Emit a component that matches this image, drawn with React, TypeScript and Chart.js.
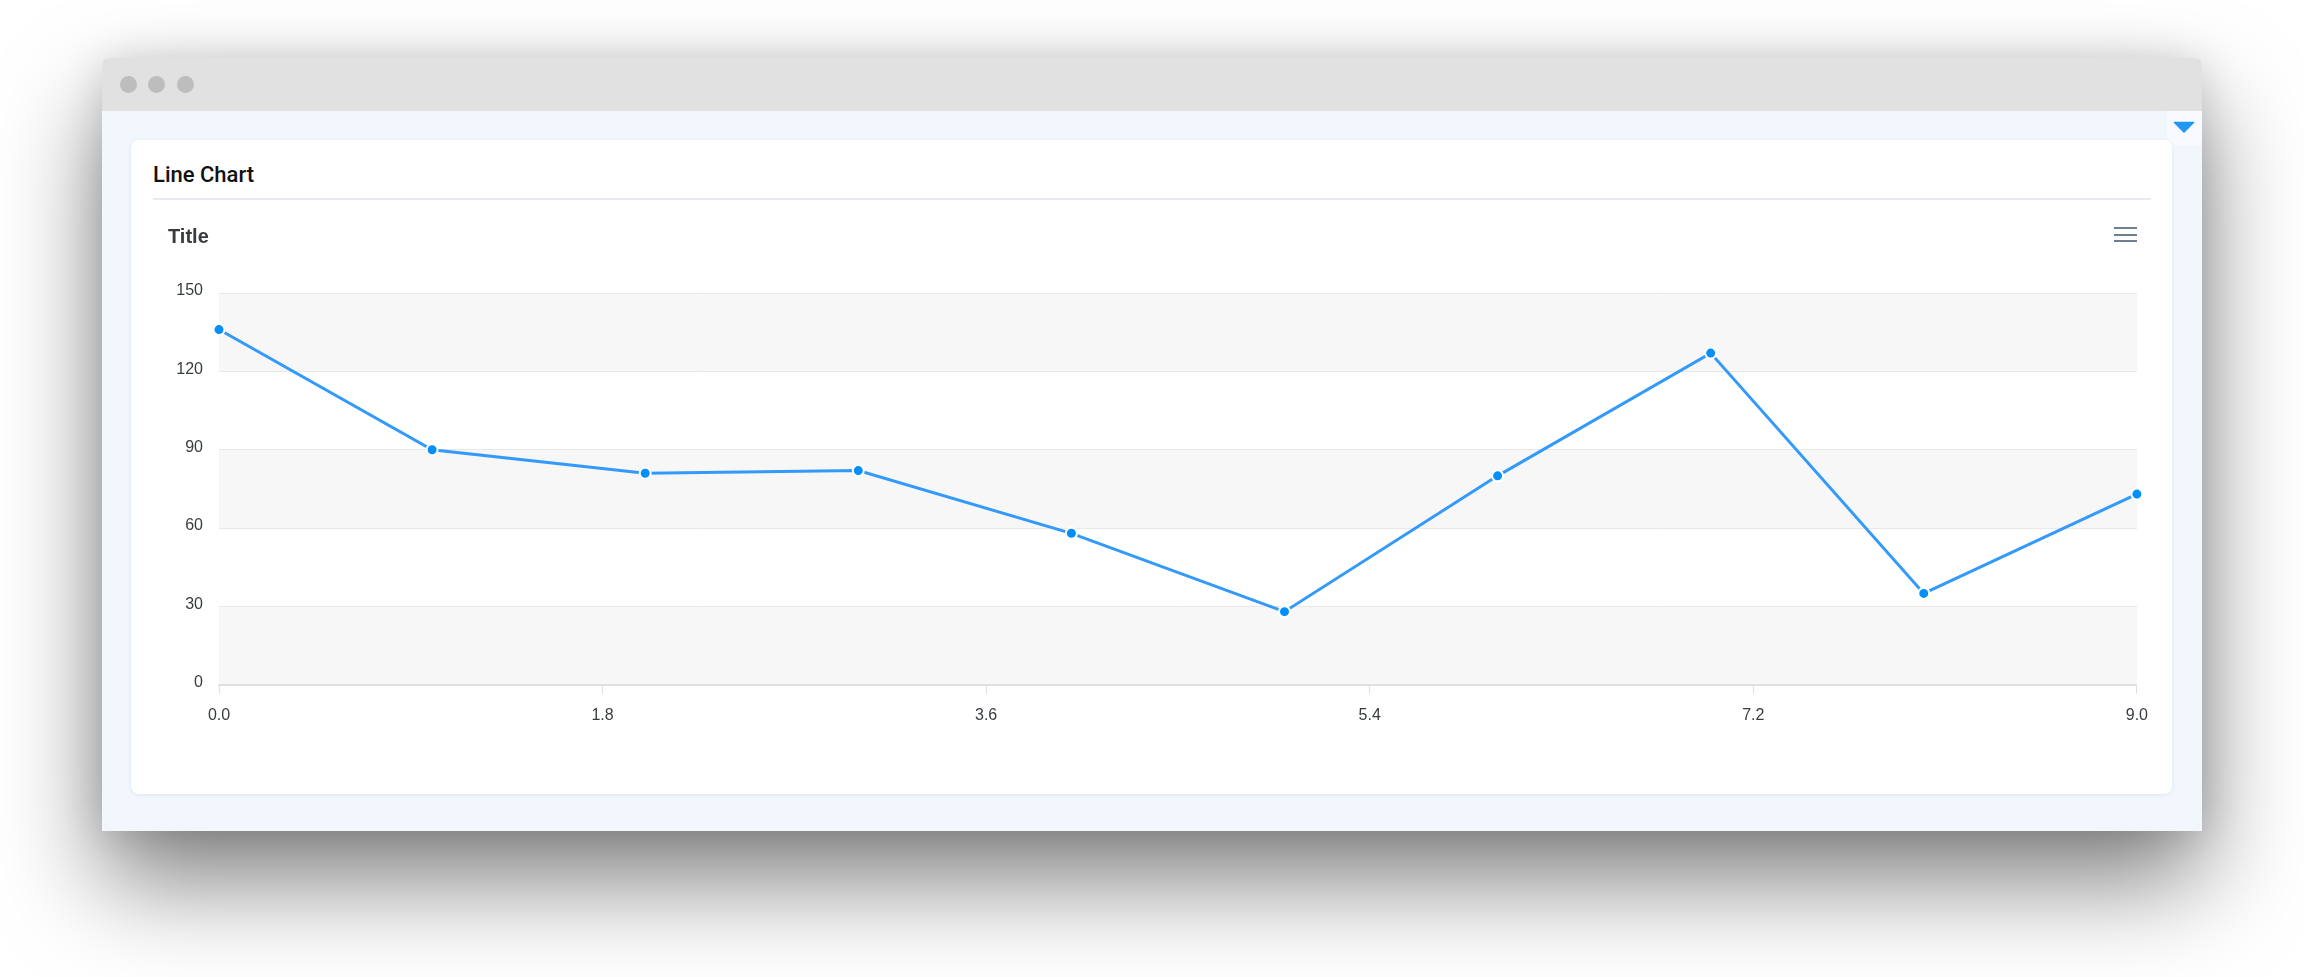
import React, { useEffect, useRef } from "react";
import { Chart, registerables } from "chart.js";

Chart.register(...registerables);

// ---- data ----
const xValues = [0, 1, 2, 3, 4, 5, 6, 7, 8, 9];
const yValues = [136, 90, 81, 82, 58, 28, 80, 127, 35, 73];
const xTickValues = [0, 1.8, 3.6, 5.4, 7.2, 9.0];
const yTickValues = [0, 30, 60, 90, 120, 150];
const chartTitle = "Title";
const cardTitle = "Line Chart";

const CANVAS_W = 2007;
const CANVAS_H = 580;

const bandPlugin = {
  id: "bands",
  beforeDraw(chart: any) {
    const { ctx, chartArea } = chart;
    const y = chart.scales.y;
    ctx.save();
    ctx.fillStyle = "#f7f7f7";
    for (let i = 0; i < yTickValues.length - 1; i++) {
      if (i % 2 === 0) {
        const top = y.getPixelForValue(yTickValues[i + 1]);
        const bottom = y.getPixelForValue(yTickValues[i]);
        ctx.fillRect(chartArea.left, top, chartArea.right - chartArea.left, bottom - top);
      }
    }
    ctx.restore();
  },
};

const tickFont = { family: "'Liberation Sans', Arial, sans-serif", size: 16, lineHeight: 1.2 };

function LineChart() {
  const ref = useRef<HTMLCanvasElement | null>(null);
  useEffect(() => {
    if (!ref.current) return;
    const chart = new Chart(ref.current, {
      type: "line",
      data: {
        datasets: [
          {
            data: xValues.map((x, i) => ({ x, y: yValues[i] })),
            borderColor: "#3399fb",
            borderWidth: 3,
            tension: 0,
            fill: false,
            clip: false,
            pointRadius: 5.5,
            pointBorderWidth: 2,
            pointBorderColor: "#ffffff",
            pointBackgroundColor: "#008ffb",
          },
        ],
      },
      options: {
        animation: false,
        responsive: false,
        layout: { padding: { left: 15, right: 6, top: 0, bottom: 43 } },
        plugins: {
          legend: { display: false },
          tooltip: { enabled: false },
          title: {
            display: true,
            text: chartTitle,
            align: "start",
            color: "#373d3f",
            font: { family: "'Liberation Sans', Arial, sans-serif", size: 20, weight: "bold", lineHeight: 1.2 },
            padding: { top: 25, bottom: 44 },
          },
        },
        scales: {
          x: {
            type: "linear",
            min: 0,
            max: 9,
            afterBuildTicks: (s: any) => {
              s.ticks = xTickValues.map((v) => ({ value: v }));
            },
            ticks: {
              callback: (v: any) => Number(v).toFixed(1),
              color: "#373d3f",
              font: tickFont,
              padding: 12,
              maxRotation: 0,
              autoSkip: false,
            },
            grid: { drawOnChartArea: false, drawTicks: true, tickLength: 9, color: "#e0e0e0" },
            border: { display: true, color: "#e0e0e0", width: 2 },
          },
          y: {
            min: 0,
            max: 150,
            afterBuildTicks: (s: any) => {
              s.ticks = yTickValues.map((v) => ({ value: v }));
            },
            afterFit: (s: any) => {
              s.width = 51;
            },
            ticks: {
              color: "#373d3f",
              font: tickFont,
              padding: 16,
              labelOffset: -2,
            },
            grid: { drawTicks: false, color: "#e8e8e8" },
            border: { display: false },
          },
        },
      },
      plugins: [bandPlugin],
    } as any);
    return () => chart.destroy();
  }, []);
  return (
    <canvas
      ref={ref}
      width={CANVAS_W}
      height={CANVAS_H}
      style={{ width: CANVAS_W, height: CANVAS_H, display: "block" }}
    />
  );
}

export default function App() {
  return (
    <div
      style={{
        position: "fixed",
        left: 0,
        top: 0,
        width: 2304,
        height: 977,
        background: "#ffffff",
        overflow: "hidden",
      }}
    >
      {/* window */}
      <div
        style={{
          position: "absolute",
          left: 102,
          top: 58,
          width: 2100,
          height: 773,
          background: "#f2f6fd",
          borderRadius: "7px 7px 0 0",
          boxShadow: "0 50px 100px rgba(0,0,0,0.5), 0 0 40px rgba(0,0,0,0.12)",
          overflow: "hidden",
        }}
      >
        <div style={{ position: "absolute", left: 0, top: 0, width: 2100, height: 53, background: "#e1e1e1" }} />
        {[26, 54, 83].map((cx, i) => (
          <div
            key={i}
            style={{
              position: "absolute",
              left: cx - 8.5,
              top: 26 - 8.5,
              width: 17,
              height: 17,
              borderRadius: "50%",
              background: "#bdbdbd",
            }}
          />
        ))}
        <div
          style={{
            position: "absolute",
            left: 2065,
            top: 53,
            width: 35,
            height: 34,
            background: "#f8faff",
            borderBottomLeftRadius: 6,
          }}
        >
          <svg width="35" height="34" style={{ display: "block" }}>
            <path d="M7.5 11.5 L26.5 11.5 L17 21 Z" fill="#2196f3" stroke="#2196f3" strokeWidth="1.5" strokeLinejoin="round" />
          </svg>
        </div>
      </div>

      {/* card */}
      <div
        style={{
          position: "absolute",
          left: 131,
          top: 140,
          width: 2041,
          height: 654,
          background: "#ffffff",
          borderRadius: 8,
          boxShadow: "0 1px 4px rgba(0,0,0,0.08)",
        }}
      />
      <div
        style={{
          position: "absolute",
          left: 153,
          top: 164,
          lineHeight: "22px",
          fontSize: 22,
          fontWeight: 500,
          fontFamily: "Roboto, 'Noto Sans', sans-serif",
          color: "#111111",
          whiteSpace: "nowrap",
        }}
      >
        {cardTitle}
      </div>
      <div style={{ position: "absolute", left: 153, top: 198, width: 1998, height: 2, background: "#e6e9ef" }} />

      <div style={{ position: "absolute", left: 153, top: 200 }}>
        <LineChart />
      </div>

      {/* menu icon */}
      {[227, 234, 240].map((t, i) => (
        <div key={i} style={{ position: "absolute", left: 2114, top: t, width: 23, height: 2, background: "#6e8192" }} />
      ))}
    </div>
  );
}
